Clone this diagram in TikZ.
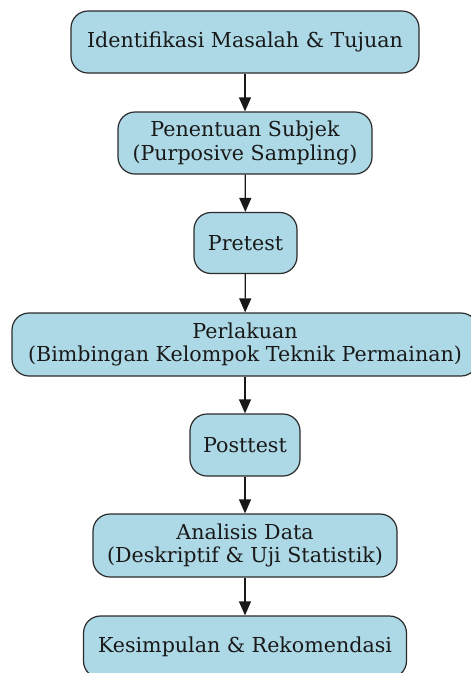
\documentclass[tikz,border=0pt]{standalone}
\usepackage{fontspec}
\setmainfont{DejaVu Serif}
\usetikzlibrary{arrows.meta}
\definecolor{boxfill}{HTML}{ADD8E6}
\definecolor{boxline}{HTML}{2B2B2B}
\begin{document}
\begin{tikzpicture}[x=1pt,y=-1pt,
  stepbox/.style={draw=boxline, fill=boxfill, line width=1.2pt, rounded corners=17pt,
    inner sep=0pt, align=center, font=\fontsize{20.6}{23.5}\selectfont, text=black!90},
  flow/.style={line width=1.2pt, draw=black!90, -{Triangle[length=14pt,width=12pt]}}]
\useasboundingbox (0,0) rectangle (471,673);
\begin{scope}
\clip (0,0) rectangle (471,673);
\node[stepbox, minimum width=348pt, minimum height=62pt] (n1) at (245,42) {Identifikasi Masalah \& Tujuan};
\node[stepbox, minimum width=254pt, minimum height=62pt] (n2) at (245,143) {Penentuan Subjek\\(Purposive Sampling)};
\node[stepbox, minimum width=103pt, minimum height=61pt] (n3) at (245.5,243) {Pretest};
\node[stepbox, minimum width=466pt, minimum height=63pt] (n4) at (245,344.5) {Perlakuan\\(Bimbingan Kelompok Teknik Permainan)};
\node[stepbox, minimum width=110pt, minimum height=62pt] (n5) at (245,445) {Posttest};
\node[stepbox, minimum width=304pt, minimum height=63pt] (n6) at (245,545.5) {Analisis Data\\(Deskriptif \& Uji Statistik)};
\node[stepbox, minimum width=323pt, minimum height=62pt] (n7) at (245,647) {Kesimpulan \& Rekomendasi};
\draw[flow] (n1) -- (n2);
\draw[flow] (n2) -- (n3);
\draw[flow] (n3) -- (n4);
\draw[flow] (n4) -- (n5);
\draw[flow] (n5) -- (n6);
\draw[flow] (n6) -- (n7);
\end{scope}
\end{tikzpicture}
\end{document}
